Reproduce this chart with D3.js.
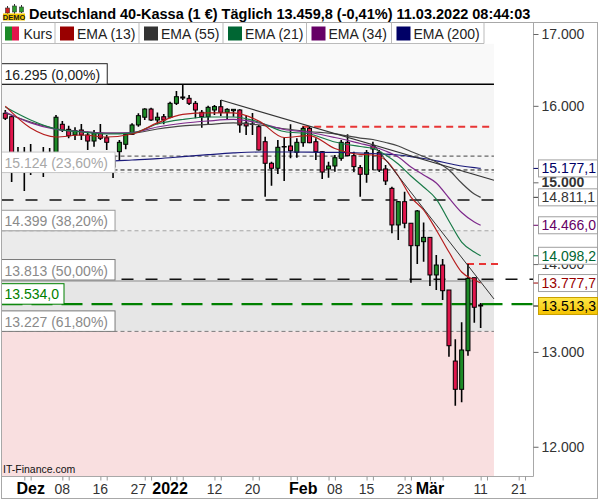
<!DOCTYPE html>
<html><head><meta charset="utf-8">
<script src="https://cdn.jsdelivr.net/npm/d3@7/dist/d3.min.js"></script>
<style>html,body{margin:0;padding:0;background:#fff;}svg{display:block;font-family:Arial,"Liberation Sans",Helvetica,sans-serif;}</style>
</head><body>
<svg id="chart" width="600" height="500"></svg>
<script>
// ---------------- DATA ----------------
const title = "Deutschland 40-Kassa (1 €) Täglich 13.459,8 (-0,41%) 11.03.2022 08:44:03";
const legendNames = ["Kurs","EMA (13)","EMA (55)","EMA (21)","EMA (34)","EMA (200)"];

const dates = ["2021-11-25","2021-11-26","2021-11-29","2021-11-30","2021-12-01","2021-12-02","2021-12-03","2021-12-06","2021-12-07","2021-12-08","2021-12-09","2021-12-10","2021-12-13","2021-12-14","2021-12-15","2021-12-16","2021-12-17","2021-12-20","2021-12-21","2021-12-22","2021-12-23","2021-12-27","2021-12-28","2021-12-29","2021-12-30","2021-12-31","2022-01-03","2022-01-04","2022-01-05","2022-01-06","2022-01-07","2022-01-10","2022-01-11","2022-01-12","2022-01-13","2022-01-14","2022-01-17","2022-01-18","2022-01-19","2022-01-20","2022-01-21","2022-01-24","2022-01-25","2022-01-26","2022-01-27","2022-01-28","2022-01-31","2022-02-01","2022-02-02","2022-02-03","2022-02-04","2022-02-07","2022-02-08","2022-02-09","2022-02-10","2022-02-11","2022-02-14","2022-02-15","2022-02-16","2022-02-17","2022-02-18","2022-02-21","2022-02-22","2022-02-23","2022-02-24","2022-02-25","2022-02-28","2022-03-01","2022-03-02","2022-03-03","2022-03-04","2022-03-07","2022-03-08","2022-03-09","2022-03-10","2022-03-11"];
const futureDates = ["2022-03-14","2022-03-15","2022-03-16","2022-03-17","2022-03-18","2022-03-21","2022-03-22"];

const open  = [15900,15854,15247,15337,15208,15337,15324,15208,15376,15753,15686,15611,15677,15611,15532,15633,15575,15337,15393,15489,15620,15744,15847,15957,15810,15854,15847,16034,16120,16102,16034,15913,15854,15944,15988,15913,15935,15944,15770,15757,15721,15523,15243,15179,15460,15467,15385,15510,15699,15523,15393,15170,15208,15307,15515,15341,15187,15102,15467,15385,15170,14924,14470,14757,14491,14219,14267,14319,13872,13989,13697,12900,12596,13013,13840,13525];
const high  = [15944,15868,15454,15454,15493,15363,15454,15441,15877,15797,15735,15713,15757,15655,15677,15757,15611,15363,15545,15633,15766,15900,15966,15975,15911,15890,16056,16202,16295,16147,16065,15944,16002,16011,16079,15966,15957,15953,15877,15904,15744,15589,15264,15545,15575,15753,15568,15725,15725,15568,15402,15264,15350,15545,15620,15393,15221,15415,15523,15415,15221,14945,14766,14882,14491,14654,14501,14323,14108,14060,13697,13139,13329,14001,13840,13548];
const low   = [15810,15005,15144,14890,15093,15157,15068,15183,15337,15651,15568,15545,15545,15415,15458,15545,15415,15055,15272,15424,15611,15721,15810,15797,15753,15753,15833,16011,16079,16011,15833,15708,15757,15877,15864,15823,15854,15642,15611,15611,15409,14819,14957,15106,15017,15307,15315,15458,15502,15285,15043,15059,15135,15276,15337,15131,14819,14996,15157,15131,14966,14369,14287,14429,13782,14001,14028,13743,13697,13582,12947,12423,12459,12958,13325,13265];
const close = [15833,15221,15324,15208,15363,15221,15195,15337,15847,15677,15602,15668,15611,15532,15633,15568,15515,15195,15515,15620,15744,15868,15957,15810,15847,15810,16034,16124,16106,16034,15944,15854,15980,15990,15913,15953,15953,15744,15731,15750,15415,15243,15179,15450,15454,15406,15515,15699,15510,15393,15131,15208,15315,15515,15341,15200,15102,15380,15428,15157,15017,14470,14757,14491,14219,14642,14319,13872,13989,13689,13068,12596,13021,13833,13499,13513.3];

// indicator readings (candle index -> value)
const emaIdx = [0,4,8,12,16,20,24,28,32,36,40,44,48,52,56,58,60,62,64,66,68,70,72,74,75];
const ema13  = [15997,15704,15585,15611,15585,15624,15771,15884,15904,15904,15797,15578,15604,15435,15357,15350,15285,15080,14815,14654,14409,14143,13907,13813,13777.7];
const ema21  = [15984,15810,15690,15651,15624,15637,15757,15817,15850,15850,15783,15657,15624,15519,15460,15435,15350,15234,15080,14941,14790,14519,14263,14143,14098.2];
const ema34  = [15917,15771,15684,15657,15637,15644,15717,15767,15797,15817,15771,15684,15644,15578,15500,15460,15402,15324,15195,15093,14991,14803,14623,14507,14466.0];
const ema55  = [15904,15783,15694,15655,15637,15637,15690,15731,15751,15771,15744,15694,15657,15627,15571,15552,15513,15467,15395,15330,15259,15157,14991,14853,14811.1];
const ema200 = [15221,15234,15247,15259,15268,15285,15303,15328,15354,15377,15389,15389,15386,15383,15376,15369,15360,15350,15330,15305,15275,15240,15208,15186,15177.1];

const fibLevels = [16295,15124,14399,13813,13227];
const fibPct    = ["0,00%","23,60%","38,20%","50,00%","61,80%"];
const alarmLevel = 13534.0;
const lastPrice = 13513.3;
const dottedLevels = [15336,15157];        // short-dash horizontals
const longDashLevels = [14778,13822];      // long-dash horizontals
const resistA = {from:"2022-02-01", value:15720};
const resistB = {from:"2022-03-09", value:14001};
const trend1 = [[34,16079],[77.1,15026]];
const trend2 = [[58,15500],[77.1,13594]];

const yTicks = [12000,13000,14000,15000,16000,17000];
const xLabels     = ["Dez","08","16","27","2022","12","20","Feb","08","15","23","Mär","11","21"];
const xLabelDates = ["2021-12-01","2021-12-08","2021-12-16","2021-12-27","2022-01-03","2022-01-12","2022-01-20","2022-02-01","2022-02-08","2022-02-15","2022-02-23","2022-03-01","2022-03-11","2022-03-21"];
const xLabelBold  = [true,false,false,false,true,false,false,true,false,false,false,true,false,false];
const xTickDates = ["2021-11-30","2021-12-01","2021-12-08","2021-12-09","2021-12-16","2021-12-17","2021-12-28","2021-12-29","2022-01-03","2022-01-04","2022-01-05","2022-01-12","2022-01-13","2022-01-20","2022-01-21","2022-01-28","2022-01-31","2022-02-07","2022-02-08","2022-02-15","2022-02-16","2022-02-23","2022-02-24","2022-03-01","2022-03-03","2022-03-11","2022-03-14","2022-03-21","2022-03-22"];

// ---------------- DRAW ----------------
const svg = d3.select("#chart");
const de = d3.formatLocale({decimal:",",thousands:".",grouping:[3],currency:["","€"]});
const fmt0 = de.format(",.0f"), fmt1 = de.format(",.1f");
const allDates = dates.concat(futureDates);
const idxOf = d => allDates.indexOf(d);

const x = d3.scaleLinear().domain([0, dates.length-1]).range([5.3, 480.65]);
const y = d3.scaleLog().domain([12000,17000]).range([446.75, 34]);

const plotL=1.5, plotR=533.5, plotT=43.5, plotB=476.5;
const fibRight = x(dates.length-1+2.1);
const GREEN="#1d8a27", RED="#e0164c";

const defs = svg.append("defs");
defs.append("clipPath").attr("id","pc").append("rect")
  .attr("x",plotL).attr("y",plotT).attr("width",plotR-plotL).attr("height",plotB-plotT);
const yg = defs.append("linearGradient").attr("id","yel").attr("x1",0).attr("x2",0).attr("y1",0).attr("y2",1);
yg.append("stop").attr("offset","0%").attr("stop-color","#ffe84a");
yg.append("stop").attr("offset","100%").attr("stop-color","#f4c200");

const plot = svg.append("g").attr("clip-path","url(#pc)");

// fib background bands
const edges = [plotT, ...fibLevels.map(v=>y(v)), plotB];
const bandColors = ["#f9f9f9","#f5f5f5","#f0f0f0","#ebebeb","#e6e6e6","#f9dfe0"];
bandColors.forEach((c,i)=>{
  plot.append("rect").attr("x",plotL).attr("y",edges[i]).attr("width",fibRight-plotL)
    .attr("height",edges[i+1]-edges[i]).attr("fill",c);
});

// fib lines
const fibStroke=["#000","#c4c4c4","#a6a6a6","#8c8c8c","#7a7a7a"];
const fibDash=[null,"4,3","4,3",null,"4,3"];
fibLevels.forEach((v,i)=>{
  plot.append("line").attr("x1",plotL).attr("x2",fibRight).attr("y1",y(v)+(i===3?1:0)).attr("y2",y(v)+(i===3?1:0))
    .attr("stroke",fibStroke[i]).attr("stroke-width",i===0?1.5:1).attr("stroke-dasharray",fibDash[i]);
});
// short-dash horizontal lines
dottedLevels.forEach((v,i)=>{
  plot.append("line").attr("x1",plotL).attr("x2",fibRight).attr("y1",y(v)).attr("y2",y(v))
    .attr("stroke",i===0?"#666":"#111").attr("stroke-width",i===0?1.3:1).attr("stroke-dasharray","4,3");
});
// long-dash horizontal lines
longDashLevels.forEach((v,i)=>{
  plot.append("line").attr("x1",plotL).attr("x2",i===0?fibRight:plotR).attr("y1",y(v)).attr("y2",y(v))
    .attr("stroke","#111").attr("stroke-width",1.3).attr("stroke-dasharray","12,12");
});
// resistance red dashed
[[resistA, fibRight],[resistB, x(dates.length-1+3)]].forEach(([r,xe])=>{
  plot.append("line").attr("x1",x(idxOf(r.from))-1).attr("x2",xe).attr("y1",y(r.value)).attr("y2",y(r.value))
    .attr("stroke","#e83535").attr("stroke-width",2).attr("stroke-dasharray","7,5");
});
// alarm green dashed
plot.append("line").attr("x1",plotL).attr("x2",plotR).attr("y1",y(alarmLevel)).attr("y2",y(alarmLevel))
  .attr("stroke","#008000").attr("stroke-width",2.2).attr("stroke-dasharray","21,9");

// candles
const candles = dates.map((d,i)=>({i,o:open[i],h:high[i],l:low[i],c:close[i]}));
const cg = plot.append("g");
cg.selectAll("line").data(candles).join("line")
  .attr("x1",d=>x(d.i)).attr("x2",d=>x(d.i)).attr("y1",d=>y(d.h)).attr("y2",d=>y(d.l))
  .attr("stroke","#000").attr("stroke-width",1.6);
cg.selectAll("rect").data(candles).join("rect")
  .attr("x",d=>x(d.i)-2).attr("width",4)
  .attr("y",d=>y(Math.max(d.o,d.c)))
  .attr("height",d=>Math.max(0.4,Math.abs(y(d.o)-y(d.c))))
  .attr("fill",d=>d.c>=d.o?GREEN:RED).attr("stroke","#000").attr("stroke-width",1);

// EMA lines
const lineGen = d3.line().x(d=>x(d[0])).y(d=>y(d[1])).curve(d3.curveMonotoneX);
const emaSeries = [
  {v:ema200,c:"#1a1a7a",name:"EMA (200)"},
  {v:ema55,c:"#454545",name:"EMA (55)"},
  {v:ema34,c:"#7e2a8c",name:"EMA (34)"},
  {v:ema21,c:"#1a7a48",name:"EMA (21)"},
  {v:ema13,c:"#b61e1e",name:"EMA (13)"}
];
emaSeries.forEach(s=>{
  plot.append("path").datum(emaIdx.map((k,j)=>[k,s.v[j]])).attr("d",lineGen)
    .attr("fill","none").attr("stroke",s.c).attr("stroke-width",1.2);
});
// trend lines
const tl = d3.line().x(d=>x(d[0])).y(d=>y(d[1]));
[trend1,trend2].forEach((t,i)=>{
  plot.append("path").datum(t).attr("d",tl).attr("fill","none").attr("stroke","#333").attr("stroke-width",i===0?1.2:1);
});

// left labels (fib)
const fibTextCol=["#222","#a8a8a8","#8a8a8a","#8a8a8a","#8a8a8a"];
const fibBoxCol=["#222","#c6c6c6","#9a9a9a","#7a7a7a","#7a7a7a"];
fibLevels.forEach((v,i)=>{
  const g = svg.append("g");
  const t = g.append("text").attr("x",4.5).attr("y",y(v)-4.5).attr("fill",fibTextCol[i]).style("font-size","14px")
    .text(`${fmt0(v)} (${fibPct[i]})`);
  const w = t.node().getComputedTextLength();
  g.insert("rect","text").attr("x",1.5).attr("y",y(v)-20.5).attr("width",w+10).attr("height",20.5)
    .attr("fill","#fff").attr("stroke",fibBoxCol[i]).attr("stroke-width",1);
});
{
  const g = svg.append("g");
  const t = g.append("text").attr("x",4.5).attr("y",y(alarmLevel)-5).attr("fill","#008000").style("font-size","14px")
    .text(fmt1(alarmLevel));
  const w = t.node().getComputedTextLength();
  g.insert("rect","text").attr("x",1.5).attr("y",y(alarmLevel)-20.5).attr("width",w+8).attr("height",20.5)
    .attr("fill","#fff").attr("stroke","#008000").attr("stroke-width",1);
}

// watermark
svg.append("text").attr("x",3).attr("y",473).style("font-size","10.5px").attr("fill","#111").text("IT-Finance.com");

// frame
svg.append("rect").attr("x",1.5).attr("y",22.5).attr("width",596).attr("height",476).attr("fill","none").attr("stroke","#a8a8a8");
svg.append("line").attr("x1",plotR).attr("x2",plotR).attr("y1",22.5).attr("y2",plotB).attr("stroke","#a8a8a8");
svg.append("line").attr("x1",1.5).attr("x2",plotR).attr("y1",plotB).attr("y2",plotB).attr("stroke","#a8a8a8");

// y axis
const yAxis = d3.axisRight(y).tickValues(yTicks).tickFormat(d=>fmt0(d)).tickSize(5).tickPadding(3);
const ga = svg.append("g").attr("transform",`translate(${plotR},0)`).call(yAxis);
ga.select(".domain").remove();
ga.selectAll(".tick line").attr("stroke","#666");
ga.selectAll(".tick text").attr("fill","#333").style("font-size","14px").style("font-family","Arial, 'Liberation Sans', sans-serif")
  .style("font-weight",d=>d===15000?"bold":"normal");

// x axis
const xAxis = d3.axisBottom(x).tickValues(xTickDates.map(idxOf)).tickFormat("").tickSize(4);
const gx = svg.append("g").attr("transform",`translate(0,${plotB})`).call(xAxis);
gx.select(".domain").remove();
gx.selectAll(".tick line").attr("stroke","#999");
xLabels.forEach((l,i)=>{
  svg.append("text").attr("x",x(idxOf(xLabelDates[i]))).attr("y",494).attr("text-anchor","middle")
    .style("font-size",xLabelBold[i]?"16px":"14px").style("font-weight",xLabelBold[i]?"bold":"normal")
    .attr("fill",xLabelBold[i]?"#000":"#333").text(l);
});

// right value labels
const rightLabels = [
  {v:ema200[ema200.length-1], c:"#000066"},
  {v:ema55[ema55.length-1], c:"#333333"},
  {v:ema34[ema34.length-1], c:"#660066"},
  {v:ema21[ema21.length-1], c:"#006633"},
  {v:ema13[ema13.length-1], c:"#990000"}
];
rightLabels.forEach(r=>{
  const yy=y(r.v);
  svg.append("line").attr("x1",plotR).attr("x2",plotR+5).attr("y1",yy).attr("y2",yy).attr("stroke",r.c);
  svg.append("rect").attr("x",538.5).attr("y",yy-8.5).attr("width",59).attr("height",17).attr("fill","#fff").attr("stroke","#a0a0a0");
  svg.append("text").attr("x",541.5).attr("y",yy+5).style("font-size","14px").attr("fill",r.c).text(fmt1(r.v));
});
{
  const yy=y(lastPrice);
  svg.append("line").attr("x1",plotR).attr("x2",plotR+5).attr("y1",yy).attr("y2",yy).attr("stroke","#000");
  svg.append("rect").attr("x",538.5).attr("y",yy-8.5).attr("width",59).attr("height",17).attr("fill","url(#yel)").attr("stroke","#c8a000");
  svg.append("text").attr("x",541.5).attr("y",yy+5).style("font-size","14px").attr("fill","#000").text(fmt1(lastPrice));
}

// legend
const cellL=[1.5,55,139,223,306.5,391.5,484];
const swCols=[null,"#990000","#333333","#006633","#660066","#000066"];
svg.append("line").attr("x1",1.5).attr("x2",484).attr("y1",43.5).attr("y2",43.5).attr("stroke","#bbb");
legendNames.forEach((n,i)=>{
  const l=cellL[i];
  if(i>0) svg.append("line").attr("x1",l).attr("x2",l).attr("y1",22.5).attr("y2",43.5).attr("stroke","#bbb");
  if(i===0){
    svg.append("rect").attr("x",l+3.5).attr("y",26.5).attr("width",7).attr("height",14).attr("fill",GREEN);
    svg.append("rect").attr("x",l+10.5).attr("y",26.5).attr("width",7).attr("height",14).attr("fill",RED);
  } else {
    svg.append("rect").attr("x",l+5).attr("y",26.5).attr("width",14).attr("height",14).attr("fill",swCols[i]);
  }
  svg.append("text").attr("x",l+22).attr("y",38.5).style("font-size","14px").attr("fill","#222").text(n);
});
svg.append("line").attr("x1",484).attr("x2",484).attr("y1",22.5).attr("y2",43.5).attr("stroke","#bbb");

// title + demo icon
svg.append("text").attr("x",29).attr("y",18.5).style("font-size","14.5px").style("font-weight","bold").attr("fill","#000").text(title);
const ic = svg.append("g");
ic.append("line").attr("x1",7.5).attr("x2",7.5).attr("y1",6).attr("y2",14).attr("stroke","#333");
ic.append("rect").attr("x",5.5).attr("y",8).attr("width",4).attr("height",5).attr("fill","#d02020").attr("stroke","#333").attr("stroke-width",0.6);
ic.append("line").attr("x1",14.5).attr("x2",14.5).attr("y1",4).attr("y2",14).attr("stroke","#333");
ic.append("rect").attr("x",12.5).attr("y",6).attr("width",4).attr("height",6).attr("fill","#2a9a2a").attr("stroke","#333").attr("stroke-width",0.6);
ic.append("line").attr("x1",21.5).attr("x2",21.5).attr("y1",5).attr("y2",13).attr("stroke","#333");
ic.append("rect").attr("x",19.5).attr("y",7).attr("width",4).attr("height",5).attr("fill","#2a9a2a").attr("stroke","#333").attr("stroke-width",0.6);
ic.append("rect").attr("x",3).attr("y",13.5).attr("width",22).attr("height",7).attr("fill","#f5c800");
ic.append("text").attr("x",14).attr("y",20).attr("text-anchor","middle").style("font-size","7.5px").style("font-weight","bold").attr("fill","#1a1a1a").text("DEMO");
</script>
</body></html>
